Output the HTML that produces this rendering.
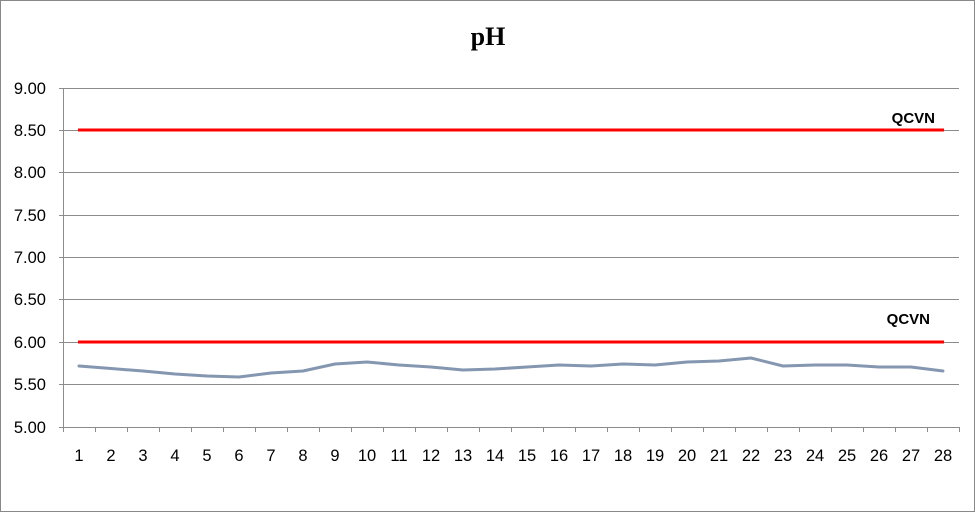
<!DOCTYPE html>
<html><head><meta charset="utf-8"><style>
body{margin:0;background:#fff}
svg{display:block}
text{font-family:"Liberation Sans",sans-serif}
</style></head><body>
<svg width="975" height="512" viewBox="0 0 975 512">
<rect x="0.5" y="0.5" width="974" height="511" fill="#fff" stroke="#888"/>
<text x="488" y="45" font-weight="bold" font-size="26" text-anchor="middle" style="font-family:'Liberation Serif',serif">pH</text>
<g stroke="#8c8c8c" stroke-width="1">
<line x1="59" y1="88.5" x2="959" y2="88.5"/>
<line x1="59" y1="130.5" x2="959" y2="130.5"/>
<line x1="59" y1="172.5" x2="959" y2="172.5"/>
<line x1="59" y1="215.5" x2="959" y2="215.5"/>
<line x1="59" y1="257.5" x2="959" y2="257.5"/>
<line x1="59" y1="299.5" x2="959" y2="299.5"/>
<line x1="59" y1="342.5" x2="959" y2="342.5"/>
<line x1="59" y1="384.5" x2="959" y2="384.5"/>
<line x1="59" y1="427.5" x2="959" y2="427.5"/>
<line x1="63.5" y1="88" x2="63.5" y2="432"/>
</g>
<g stroke="#8c8c8c" id="ticks"></g>
<g font-size="16.5" fill="#000" text-anchor="end">
<text x="46" y="94">9.00</text><text x="46" y="136">8.50</text><text x="46" y="178">8.00</text>
<text x="46" y="221">7.50</text><text x="46" y="263">7.00</text><text x="46" y="305">6.50</text>
<text x="46" y="348">6.00</text><text x="46" y="390">5.50</text><text x="46" y="433">5.00</text>
</g>
<g font-size="16.5" text-anchor="middle" id="xl"></g>
<line x1="78" y1="130" x2="944" y2="130" stroke="#f00" stroke-width="3"/>
<line x1="78" y1="342" x2="944" y2="342" stroke="#f00" stroke-width="3"/>
<text x="935" y="123" font-size="15" font-weight="bold" text-anchor="end">QCVN</text>
<text x="930" y="324" font-size="15" font-weight="bold" text-anchor="end">QCVN</text>
<polyline id="s" fill="none" stroke="#8496b0" stroke-width="3" stroke-linejoin="round" stroke-linecap="round"/>
</svg>
<script>
var ys=[366,368.5,371,374,376,377,373,371,364,362,365,367,370,369,367,365,366,364,365,362,361,358,366,365,365,367,367,371];
var p=[],t="",l="";
for(var i=0;i<28;i++){var x=79+i*32;p.push(x+","+ys[i]);l+='<text x="'+x+'" y="461">'+(i+1)+'</text>';}
for(var i=0;i<=28;i++){var x=63.5+i*32;t+='<line x1="'+x+'" y1="427" x2="'+x+'" y2="432"/>';}
document.getElementById("s").setAttribute("points",p.join(" "));
document.getElementById("ticks").innerHTML=t;
document.getElementById("xl").innerHTML=l;
</script>
</body></html>
